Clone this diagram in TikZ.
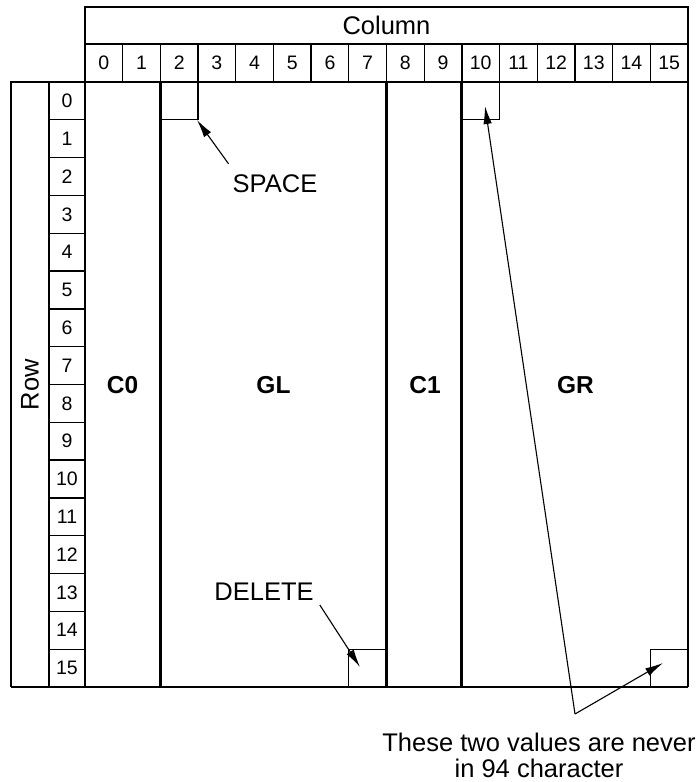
\documentclass[tikz,border=0pt]{standalone}
\usepackage{fontspec}
\setmainfont{Liberation Sans}
\usetikzlibrary{arrows.meta}
\begin{document}
\begin{tikzpicture}[x=1pt,y=-1pt,
  cellline/.style={line width=1.3pt},
  outerline/.style={line width=1.9pt},
  divider/.style={line width=2.8pt},
  idx/.style={font=\fontsize{19.5}{19.5}\selectfont, inner sep=0pt},
  notetext/.style={font=\fontsize{25.5}{26.5}\selectfont, inner sep=2pt, align=center},
  regiontext/.style={font=\fontsize{24.5}{24.5}\selectfont\bfseries, inner sep=0pt},
  pointer/.style={line width=1.1pt, -{Latex[length=18pt,width=8.5pt]}}]
\useasboundingbox (0,0) rectangle (700,782);
\def\cw{37.6875}
\def\rh{37.8125}
% column header: title row and index row
\draw[cellline] (85,44) -- (688,44);
\foreach \i in {1,...,15}
  \draw[cellline] ({85+\i*\cw},44) -- ({85+\i*\cw},82);
\draw[outerline] (85,82) -- (85,7) -- (688,7) -- (688,82);
\draw[cellline] (85,82) -- (688,82);
\node[notetext] (coltitle) at (386.5,25.5) {Column};
\foreach \i in {0,...,15}
  \node[idx] (c\i) at ({85+(\i+0.5)*\cw},63) {\i};
% row header
\draw[outerline] (85,82) -- (11,82) -- (11,687);
\draw[cellline] (49,82) -- (49,687);
\foreach \j in {1,...,15}
  \draw[cellline] (49,{82+\j*\rh}) -- (85,{82+\j*\rh});
\node[notetext, rotate=90] (rowtitle) at (30,384.5) {Row};
\foreach \j in {0,...,15}
  \node[idx] (r\j) at (67,{82+(\j+0.5)*\rh}) {\j};
% code table body and its regions
\draw[outerline] (85,82) -- (85,687);
\draw[outerline] (688,82) -- (688,687);
\draw[outerline] (11,687) -- (688,687);
\foreach \i in {2,8,10}
  \draw[divider] ({85+\i*\cw},82) -- ({85+\i*\cw},687);
% reserved single cells
\draw[cellline] ({85+3*\cw},82) -- ({85+3*\cw},{82+\rh}) -- ({85+2*\cw},{82+\rh});
\draw[cellline] ({85+11*\cw},82) -- ({85+11*\cw},{82+\rh}) -- ({85+10*\cw},{82+\rh});
\draw[cellline] ({85+7*\cw},687) -- ({85+7*\cw},{82+15*\rh}) -- ({85+8*\cw},{82+15*\rh});
\draw[cellline] ({85+15*\cw},687) -- ({85+15*\cw},{82+15*\rh}) -- (688,{82+15*\rh});
% region names
\node[regiontext] (czero) at (122.5,385) {C0};
\node[regiontext] (gl) at (273.5,385) {GL};
\node[regiontext] (cone) at (425,385) {C1};
\node[regiontext] (gr) at (575.5,385) {GR};
% annotations
\node[notetext] (space) at (275,184) {SPACE};
\coordinate (spacetip) at (197,120);
\draw[pointer] ([shift={(-2,-9)}]space.north west) -- (spacetip);
\node[notetext] (delete) at (264,592) {DELETE};
\coordinate (deletetip) at (360,667);
\draw[pointer] ([shift={(4,2)}]delete.south east) -- (deletetip);
\node[notetext] (note) at (539,755.5) {These two values are never\\in 94 character};
\coordinate (fork) at (575,714);
\coordinate (grtop) at (485,106);
\coordinate (grbottom) at (663,663);
\draw[pointer] (fork) -- (grtop);
\draw[pointer] (fork) -- (grbottom);
\end{tikzpicture}
\end{document}
